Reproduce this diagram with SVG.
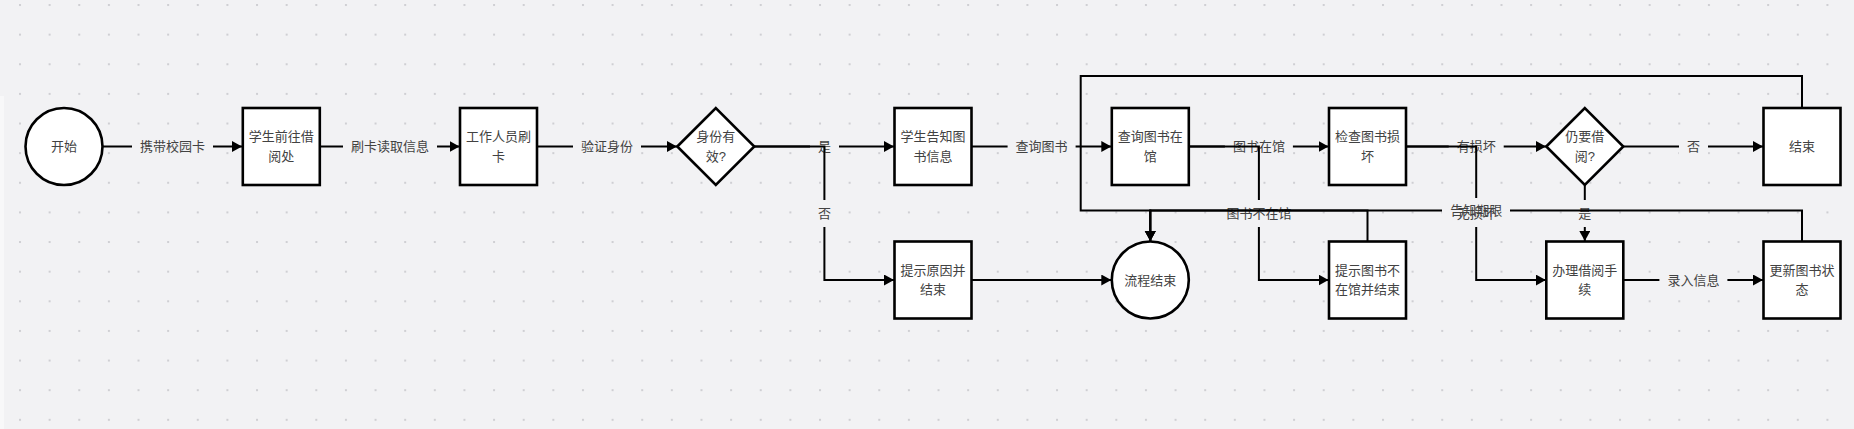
<svg xmlns="http://www.w3.org/2000/svg" width="1854" height="429" viewBox="0 0 1854 429">
<style>
.node{fill:#fff;stroke:#000;stroke-width:2.6}
.t{font-family:"Liberation Sans","Noto Sans CJK SC",sans-serif;font-size:13px;fill:#424242;text-anchor:middle;dominant-baseline:central}
.e{fill:none;stroke:#000;stroke-width:2}
.ea{fill:none;stroke:#000;stroke-width:2;marker-end:url(#arr)}
.lb{fill:#f2f2f4}
</style>
<defs>
<marker id="arr" markerUnits="userSpaceOnUse" markerWidth="11" markerHeight="12" refX="10" refY="5.5" orient="auto">
<path d="M0,0 L10,5.5 L0,11 z" fill="#000"/>
</marker>
<pattern id="dots" patternUnits="userSpaceOnUse" x="19" y="4" width="29.63" height="29.63">
<rect x="0" y="0" width="2" height="2" fill="#cfcfd3"/>
</pattern>
</defs>
<rect width="1854" height="429" fill="#f2f2f4"/>
<rect width="1854" height="429" fill="url(#dots)"/>
<rect x="0" y="96" width="4" height="333" fill="#f8f8f9"/>

<g id="connectors">
<g id="e1"><path class="ea" d="M102.5 146.5 H242"/><rect class="lb" x="132" y="133" width="81" height="27"/><text class="t" x="172.4" y="146.5">携带校园卡</text></g>
<g id="e2"><path class="ea" d="M319.8 146.5 H459.5"/><rect class="lb" x="343" y="133" width="94" height="27"/><text class="t" x="389.9" y="146.5">刷卡读取信息</text></g>
<g id="e3"><path class="ea" d="M537 146.5 H677"/><rect class="lb" x="573" y="133" width="68" height="27"/><text class="t" x="607" y="146.5">验证身份</text></g>
<g id="e4"><path class="ea" d="M754.3 146.5 H894"/><rect class="lb" x="810" y="133" width="29" height="27"/><text class="t" x="824.4" y="146.5">是</text></g>
<g id="e5"><path class="ea" d="M754.3 146.5 H824.4 V280 H894"/><rect class="lb" x="810" y="200" width="29" height="27"/><text class="t" x="824.4" y="213.3">否</text></g>
<g id="e6"><path class="ea" d="M971.5 146.5 H1111.3"/><rect class="lb" x="1007.6" y="133" width="68" height="27"/><text class="t" x="1041.6" y="146.5">查询图书</text></g>
<g id="e7"><path class="ea" d="M971.5 280 H1111.3"/></g>
<g id="e8"><path class="ea" d="M1188.8 146.5 H1328.5"/><rect class="lb" x="1224.9" y="133" width="68" height="27"/><text class="t" x="1258.9" y="146.5">图书在馆</text></g>
<g id="e9"><path class="ea" d="M1188.8 146.5 H1258.9 V280 H1328.5"/><rect class="lb" x="1218.4" y="200" width="81" height="27"/><text class="t" x="1258.9" y="213.3">图书不在馆</text></g>
<g id="e10"><path class="ea" d="M1406 146.5 H1546"/><rect class="lb" x="1448.7" y="133" width="55" height="27"/><text class="t" x="1476.2" y="146.5">有损坏</text></g>
<g id="e11"><path class="ea" d="M1406 146.5 H1476.2 V280 H1545.8"/></g>
<g id="e12"><path class="ea" d="M1623.3 146.5 H1763"/><rect class="lb" x="1679" y="133" width="29" height="27"/><text class="t" x="1693.4" y="146.5">否</text></g>
<g id="e13"><path class="ea" d="M1584.8 185 V241"/><rect class="lb" x="1570.3" y="200" width="29" height="27"/><text class="t" x="1584.8" y="213.3">是</text></g>
<g id="e14"><path class="ea" d="M1623.3 280 H1763"/><rect class="lb" x="1659.4" y="267" width="68" height="27"/><text class="t" x="1693.4" y="280">录入信息</text></g>
<g id="e15"><path class="ea" d="M1802 108 V76 H1080.7 V210.5 H1150.3 V241"/></g>
<g id="e16"><path class="ea" d="M1367.5 241.5 V210.5 H1150.3 V241"/></g>
<g id="e17"><path class="ea" d="M1802 241.5 V210.5 H1150.3 V241"/></g>
<rect class="lb" x="1448.7" y="200" width="55" height="27"/>
<rect class="lb" x="1442" y="198" width="68" height="25"/>
<text class="t" x="1476.2" y="213.3">无损坏</text>
<text class="t" x="1476.2" y="210.5">告知期限</text>
</g>

<g id="n0"><circle class="node" cx="64" cy="146.5" r="38.5"/><text class="t" x="64" y="146.5">开始</text></g>
<g id="n1"><rect class="node" x="242.8" y="108" width="77" height="77"/><text class="t" x="281.3" y="136.8">学生前往借</text><text class="t" x="281.3" y="156.3">阅处</text></g>
<g id="n2"><rect class="node" x="460" y="108" width="77" height="77"/><text class="t" x="498.5" y="136.8">工作人员刷</text><text class="t" x="498.5" y="156.3">卡</text></g>
<g id="n3"><polygon class="node" points="677.3,146.5 715.8,108 754.3,146.5 715.8,185"/><text class="t" x="715.8" y="136.8">身份有</text><text class="t" x="715.8" y="156.3">效?</text></g>
<g id="n4"><rect class="node" x="894.5" y="108" width="77" height="77"/><text class="t" x="933" y="136.8">学生告知图</text><text class="t" x="933" y="156.3">书信息</text></g>
<g id="n5"><rect class="node" x="894.5" y="241.5" width="77" height="77"/><text class="t" x="933" y="270.3">提示原因并</text><text class="t" x="933" y="289.8">结束</text></g>
<g id="n6"><rect class="node" x="1111.8" y="108" width="77" height="77"/><text class="t" x="1150.3" y="136.8">查询图书在</text><text class="t" x="1150.3" y="156.3">馆</text></g>
<g id="n7"><circle class="node" cx="1150.3" cy="280" r="38.5"/><text class="t" x="1150.3" y="280">流程结束</text></g>
<g id="n8"><rect class="node" x="1329" y="108" width="77" height="77"/><text class="t" x="1367.5" y="136.8">检查图书损</text><text class="t" x="1367.5" y="156.3">坏</text></g>
<g id="n9"><rect class="node" x="1329" y="241.5" width="77" height="77"/><text class="t" x="1367.5" y="270.3">提示图书不</text><text class="t" x="1367.5" y="289.8">在馆并结束</text></g>
<g id="n10"><polygon class="node" points="1546.3,146.5 1584.8,108 1623.3,146.5 1584.8,185"/><text class="t" x="1584.8" y="136.8">仍要借</text><text class="t" x="1584.8" y="156.3">阅?</text></g>
<g id="n11"><rect class="node" x="1546.3" y="241.5" width="77" height="77"/><text class="t" x="1584.8" y="270.3">办理借阅手</text><text class="t" x="1584.8" y="289.8">续</text></g>
<g id="n12"><rect class="node" x="1763.5" y="108" width="77" height="77"/><text class="t" x="1802" y="146.5">结束</text></g>
<g id="n13"><rect class="node" x="1763.5" y="241.5" width="77" height="77"/><text class="t" x="1802" y="270.3">更新图书状</text><text class="t" x="1802" y="289.8">态</text></g>
</svg>
